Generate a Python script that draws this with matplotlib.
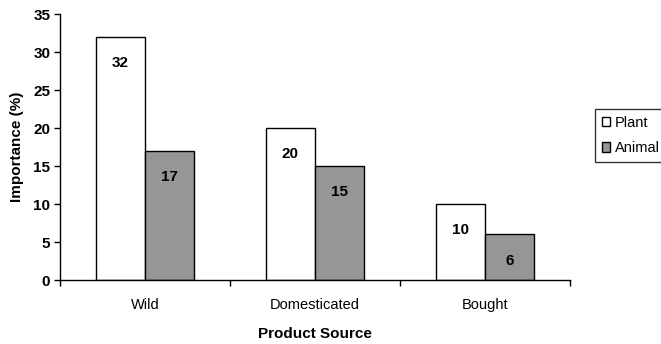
import numpy as np
import matplotlib
matplotlib.use("Agg")
import matplotlib.pyplot as plt

categories = ["Wild", "Domesticated", "Bought"]
plant = [32, 20, 10]
animal = [17, 15, 6]
series_names = ["Plant", "Animal"]

plt.rcParams["font.family"] = ["Liberation Sans", "DejaVu Sans"]

fig = plt.figure(figsize=(6.61, 3.44), dpi=100)
ax = fig.add_axes([60 / 661, 64 / 344, 510 / 661, 266 / 344])

x = np.arange(len(categories))
w = 0.29
b1 = ax.bar(x - w / 2, plant, w, color="white", edgecolor="black", lw=1, label=series_names[0])
b2 = ax.bar(x + w / 2, animal, w, color="#969696", edgecolor="black", lw=1, label=series_names[1])

for bars, vals in ((b1, plant), (b2, animal)):
    for rect, v in zip(bars, vals):
        ax.annotate(str(v), (rect.get_x() + rect.get_width() / 2, v),
                    xytext=(0, -19), textcoords="offset points",
                    ha="center", va="center", fontsize=11, fontweight="bold")

ax.set_xlim(-0.5, len(categories) - 0.5)
ax.set_ylim(0, 35)
ax.set_yticks(range(0, 36, 5))
ax.set_xticks(x)
ax.set_xticklabels(categories, fontsize=10.5)
ax.set_xticks(np.arange(-0.5, len(categories)), minor=True)
ax.tick_params(axis="x", which="major", length=0, pad=13)
ax.tick_params(axis="x", which="minor", length=4, width=1, direction="out")
ax.tick_params(axis="y", length=4, width=1, labelsize=11, pad=3)
for lab in ax.get_yticklabels():
    lab.set_fontweight("bold")

for s in ("top", "right"):
    ax.spines[s].set_visible(False)
ax.spines["left"].set_linewidth(1)
ax.spines["bottom"].set_linewidth(1)

ax.set_xlabel("Product Source", fontsize=11, fontweight="bold", labelpad=11)
ax.set_ylabel("Importance (%)", fontsize=11, fontweight="bold", labelpad=7)

leg = fig.legend(handles=[b1, b2], loc="upper left", bbox_to_anchor=(595 / 661, 1 - 109 / 344),
                 fontsize=10.5, frameon=True, fancybox=False, edgecolor="black",
                 handlelength=0.6, handleheight=0.6, handletextpad=0.3,
                 borderpad=0.45, labelspacing=0.8, borderaxespad=0)
leg.get_frame().set_linewidth(1)

fig.savefig("out.png", dpi=100)
